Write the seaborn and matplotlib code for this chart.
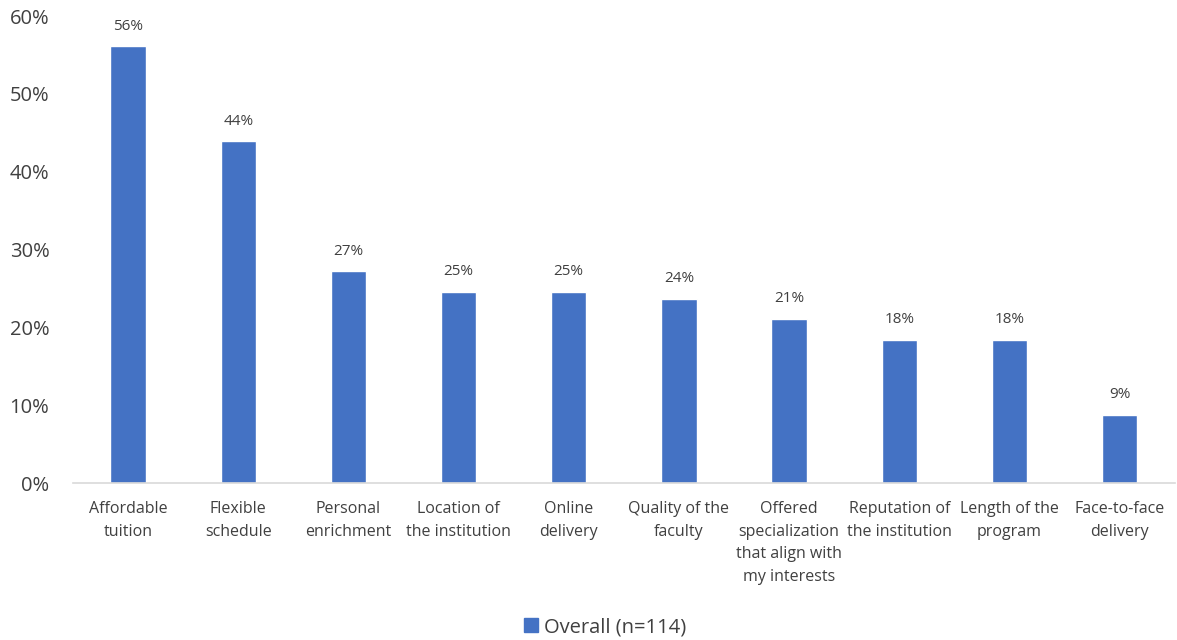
import matplotlib
matplotlib.use("Agg")
import matplotlib.pyplot as plt
import seaborn as sns
import pandas as pd
from matplotlib.ticker import FuncFormatter, MultipleLocator

# Share of respondents (%) citing each factor
factors = [
    "Affordable\ntuition",
    "Flexible\nschedule",
    "Personal\nenrichment",
    "Location of\nthe institution",
    "Online\ndelivery",
    "Quality of the\nfaculty",
    "Offered\nspecialization\nthat align with\nmy interests",
    "Reputation of\nthe institution",
    "Length of the\nprogram",
    "Face-to-face\ndelivery",
]
pct = [56.1, 43.9, 27.2, 24.6, 24.6, 23.7, 21.1, 18.4, 18.4, 8.8]
series_name = "Overall (n=114)"

df = pd.DataFrame({"factor": factors, "pct": pct, "group": series_name})

sns.set_theme(style="white")
plt.rcParams["font.family"] = ["Open Sans", "DejaVu Sans"]

fig = plt.figure(figsize=(11.77, 6.4), dpi=100)
ax = fig.add_axes([0.062, 0.245, 0.936, 0.73])

blue = "#4472C4"
text_col = "#404040"

sns.barplot(data=df, x="factor", y="pct", hue="group", palette=[blue],
            width=0.32, ax=ax, legend=False, saturation=1)

ax.set_ylim(0, 60)
ax.set_xlim(-0.5, len(factors) - 0.5)
ax.yaxis.set_major_locator(MultipleLocator(10))
ax.yaxis.set_major_formatter(FuncFormatter(lambda v, _: f"{v:.0f}%"))
ax.set_xlabel("")
ax.set_ylabel("")

for s in ["top", "right", "left"]:
    ax.spines[s].set_visible(False)
ax.spines["bottom"].set_color("#d9d9d9")
ax.spines["bottom"].set_linewidth(1.2)

ax.tick_params(axis="y", length=0, pad=17, labelsize=14.5, labelcolor=text_col)
ax.tick_params(axis="x", length=0, pad=13, labelsize=11.5, labelcolor=text_col)
for lbl in ax.get_xticklabels():
    lbl.set_linespacing(1.55)

# Value labels above the bars
for container in ax.containers:
    ax.bar_label(container, labels=[f"{v:.0f}%" for v in pct], padding=9,
                 fontsize=11, color=text_col)

handles = [plt.Rectangle((0, 0), 1, 1, color=blue)]
fig.legend(handles, [series_name], loc="center", bbox_to_anchor=(0.514, 0.02),
           frameon=False, fontsize=14.5, handlelength=0.7, handleheight=0.7,
           handletextpad=0.3, labelcolor=text_col)

fig.savefig("out.png", dpi=100)
